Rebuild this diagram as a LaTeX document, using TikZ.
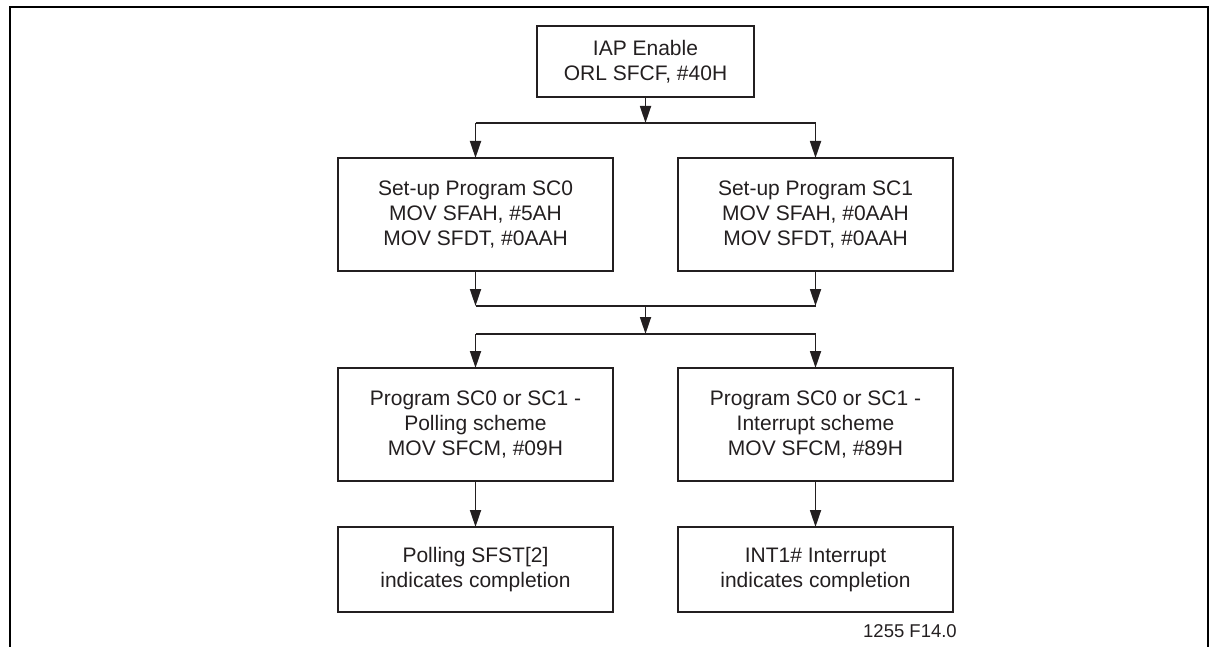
\documentclass[tikz,border=0pt]{standalone}
\usepackage{fontspec}
\setmainfont{Liberation Sans}
\usetikzlibrary{arrows.meta}
\definecolor{ink}{HTML}{231F20}
\begin{document}
\begin{tikzpicture}[x=1pt,y=-1pt,
  box/.style={draw=ink, line width=1.9pt, align=center, text=ink,
    font=\fontsize{21}{25}\selectfont, inner sep=0pt, outer sep=0pt},
  conn/.style={draw=ink, line width=1.8pt},
  arr/.style={conn, -{Triangle[length=17pt,width=11pt]}}]
\useasboundingbox (0,0) rectangle (1215,647);
% frame (open at bottom)
\draw[line width=2.2pt, draw=black] (9.7,660) -- (9.7,7.3) -- (1208,7.3) -- (1208,660);
% nodes
\node[box, minimum width=217pt, minimum height=71pt] (a) at (645.5,61.5) {IAP Enable\\ORL SFCF, \#40H};
\node[box, minimum width=275pt, minimum height=113pt] (b1) at (475.5,214.5) {Set-up Program SC0\\MOV SFAH, \#5AH\\MOV SFDT, \#0AAH};
\node[box, minimum width=275pt, minimum height=113pt] (b2) at (815.5,214.5) {Set-up Program SC1\\MOV SFAH, \#0AAH\\MOV SFDT, \#0AAH};
\node[box, minimum width=275pt, minimum height=113pt] (c1) at (475.5,424.5) {Program SC0 or SC1 -\\Polling scheme\\MOV SFCM, \#09H};
\node[box, minimum width=275pt, minimum height=113pt] (c2) at (815.5,424.5) {Program SC0 or SC1 -\\Interrupt scheme\\MOV SFCM, \#89H};
\node[box, minimum width=275pt, minimum height=85pt] (d1) at (475.5,569.5) {Polling SFST[2]\\indicates completion};
\node[box, minimum width=275pt, minimum height=85pt] (d2) at (815.5,569.5) {INT1\# Interrupt\\indicates completion};
\node[text=ink, font=\fontsize{18.5}{22}\selectfont, inner sep=0pt] (lbl) at (910,631.5) {1255 F14.0};
% junction coordinates
\coordinate (s1) at (645.5,123);
\coordinate (m1) at (645.5,306);
\coordinate (s2) at (645.5,334);
% connectors
\draw[arr] (a.south) -- (s1);
\draw[conn] (b1.north |- s1) -- (b2.north |- s1);
\draw[arr] (b1.north |- s1) -- (b1.north);
\draw[arr] (b2.north |- s1) -- (b2.north);
\draw[arr] (b1.south) -- (b1.south |- m1);
\draw[arr] (b2.south) -- (b2.south |- m1);
\draw[conn] (b1.south |- m1) -- (b2.south |- m1);
\draw[arr] (m1) -- (s2);
\draw[conn] (c1.north |- s2) -- (c2.north |- s2);
\draw[arr] (c1.north |- s2) -- (c1.north);
\draw[arr] (c2.north |- s2) -- (c2.north);
\draw[arr] (c1.south) -- (d1.north);
\draw[arr] (c2.south) -- (d2.north);
\end{tikzpicture}
\end{document}
